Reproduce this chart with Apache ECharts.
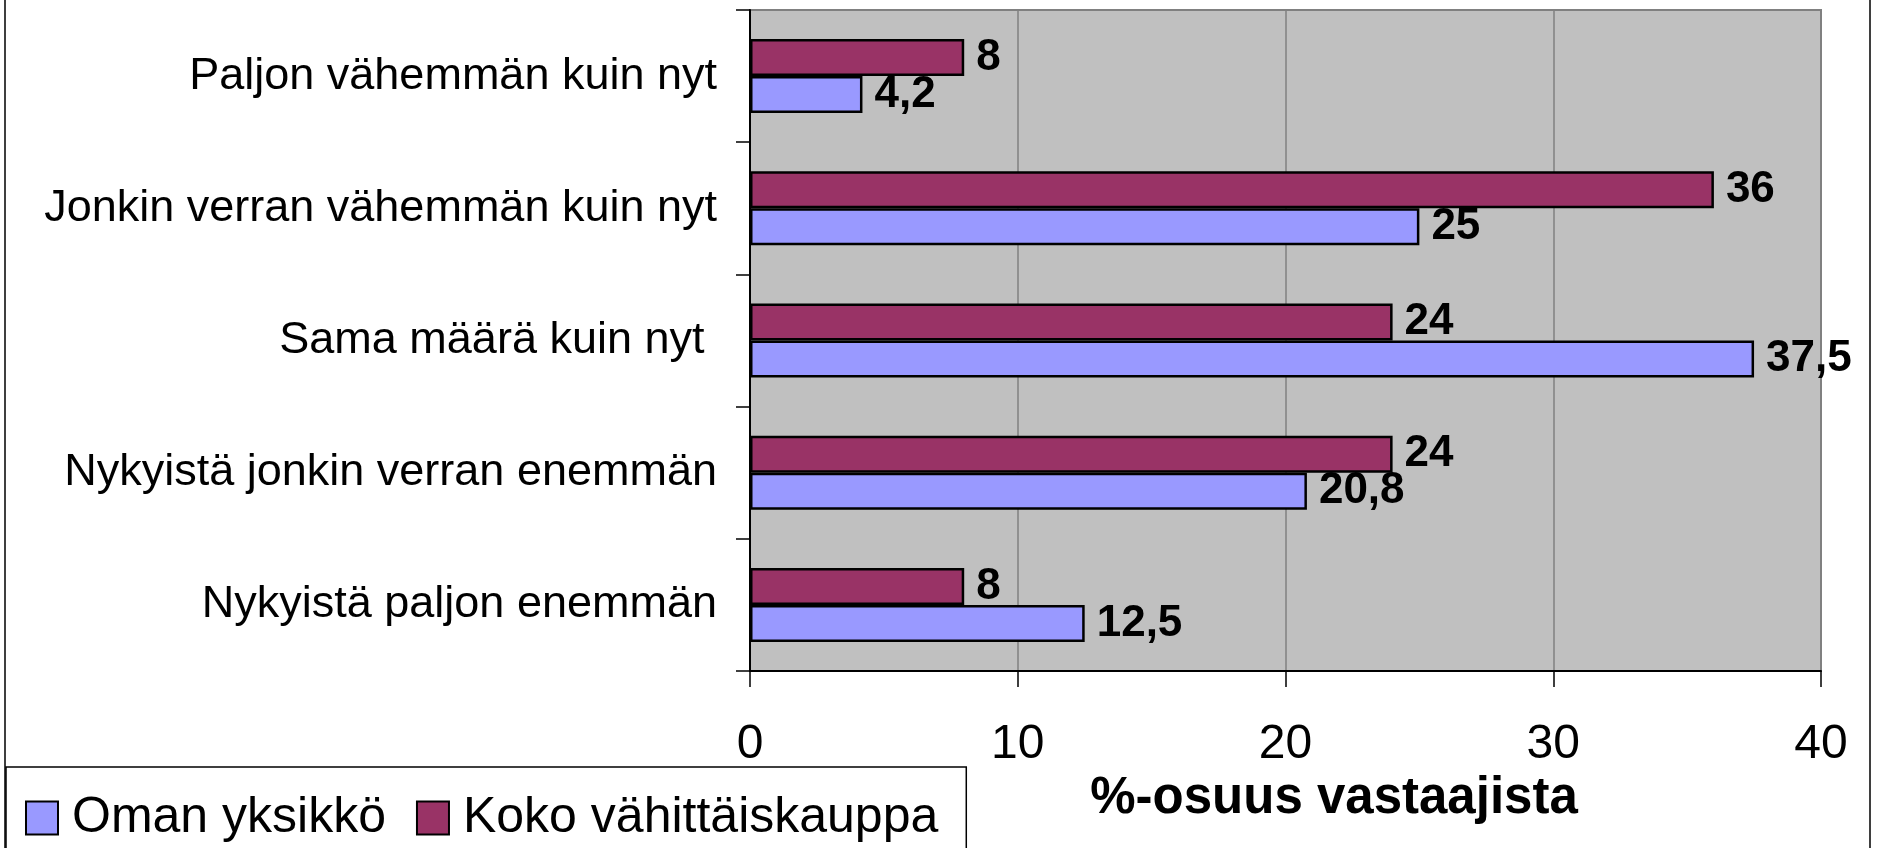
<!DOCTYPE html>
<html>
<head>
<meta charset="utf-8">
<script src="https://cdn.jsdelivr.net/npm/echarts@6/dist/echarts.min.js"></script>
<style>
html, body { margin: 0; padding: 0; background: #fff; }
#chart { width: 1892px; height: 848px; }
</style>
</head>
<body>
<div id="chart"></div>
<script>
// data
var categories = ['Paljon vähemmän kuin nyt', 'Jonkin verran vähemmän kuin nyt', 'Sama määrä kuin nyt ', 'Nykyistä jonkin verran enemmän', 'Nykyistä paljon enemmän'];
var omanYksikko = [4.2, 25, 37.5, 20.8, 12.5];
var kokoVahittaiskauppa = [8, 36, 24, 24, 8];
var xMin = 0, xMax = 40, xStep = 10;

var font = "'Liberation Sans', Arial, sans-serif";

function fmt(p) {
  return String(p.value).replace('.', ',');
}

var barLabel = {
  show: true,
  position: 'right',
  distance: 12,
  formatter: fmt,
  color: '#000',
  fontFamily: font,
  fontWeight: 'bold',
  fontSize: 44
};

var option = {
  animation: false,
  backgroundColor: '#fff',
  grid: {
    left: 750, right: 71, top: 10, bottom: 177,
    show: true,
    backgroundColor: '#C0C0C0',
    borderColor: '#808080',
    borderWidth: 2
  },
  legend: {
    left: 6,
    top: 767,
    orient: 'horizontal',
    data: ['Oman yksikkö', 'Koko vähittäiskauppa'],
    icon: 'rect',
    itemWidth: 32,
    itemHeight: 33,
    itemGap: 30,
    padding: [26, 28, 60, 19],
    borderColor: '#000',
    borderWidth: 1.5,
    backgroundColor: '#fff',
    textStyle: { fontFamily: font, fontSize: 50, color: '#000', padding: [0, 0, 0, 9] }
  },
  xAxis: {
    type: 'value',
    min: xMin, max: xMax, interval: xStep,
    name: '%-osuus vastaajista',
    nameLocation: 'middle',
    nameGap: 99,
    nameTextStyle: { fontFamily: font, fontSize: 51, fontWeight: 'bold', color: '#000', padding: [0, 0, 0, 97] },
    axisLine: { show: true, lineStyle: { color: '#000', width: 2 } },
    axisTick: { show: true, length: 16, lineStyle: { color: '#000', width: 1.5 } },
    axisLabel: { margin: 50, fontFamily: font, fontSize: 48, color: '#000' },
    splitLine: { show: true, lineStyle: { color: '#808080', width: 1.5 } }
  },
  yAxis: {
    type: 'category',
    data: categories,
    inverse: true,
    axisLine: { show: true, lineStyle: { color: '#000', width: 2 } },
    axisTick: { show: true, length: 14, lineStyle: { color: '#000', width: 1.5 } },
    axisLabel: { margin: 33, fontFamily: font, fontSize: 45, color: '#000' },
    splitLine: { show: false }
  },
  series: [
    {
      name: 'Koko vähittäiskauppa',
      type: 'bar',
      data: kokoVahittaiskauppa,
      barGap: '0%',
      barCategoryGap: '44%',
      itemStyle: { color: '#993366', borderColor: '#000', borderWidth: 2.5 },
      label: barLabel
    },
    {
      name: 'Oman yksikkö',
      type: 'bar',
      data: omanYksikko,
      barGap: '0%',
      barCategoryGap: '44%',
      itemStyle: { color: '#9999FF', borderColor: '#000', borderWidth: 2.5 },
      label: barLabel
    }
  ],
  graphic: [
    {
      type: 'rect',
      silent: true,
      z: -10,
      shape: { x: 5, y: -10, width: 1865, height: 900 },
      style: { fill: null, stroke: '#000', lineWidth: 1.5 }
    }
  ]
};

var mychart = echarts.init(document.getElementById('chart'));
mychart.setOption(option);
</script>
</body>
</html>
